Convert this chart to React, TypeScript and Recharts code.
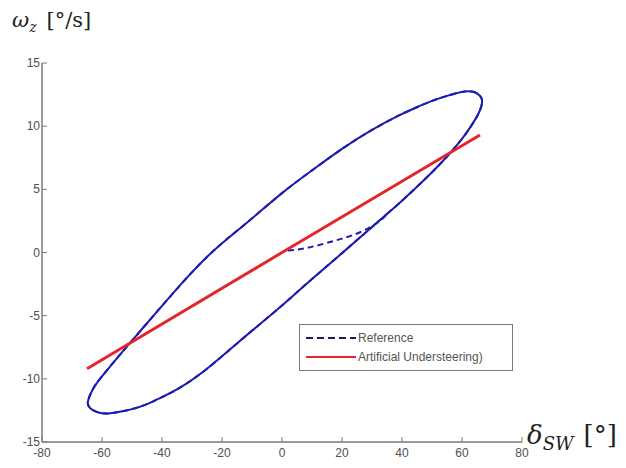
import { Line, LineChart, XAxis, YAxis } from 'recharts';

// steering wheel angle δ_SW [°] vs yaw rate ω_z [°/s]
const xTicks = [-80, -60, -40, -20, 0, 20, 40, 60, 80];
const yTicks = [-15, -10, -5, 0, 5, 10, 15];

// start-up of the reference manoeuvre (from the origin onto the loop)
const transientDelta = [2, 8, 14, 20, 26, 32, 35];
const transientOmega = [0.15, 0.35, 0.7, 1.1, 1.6, 2.4, 3.05];

// steady sine-steer loop, traced counter-clockwise
const loopDelta = [
  35, 40, 45, 50, 55, 60, 63, 65.5, 66.7, 66, 64, 61, 58, 55, 50, 45, 39, 30, 20, 10, 0, -12, -23,
  -34, -45, -53, -60, -63, -64.7, -64, -62, -59, -55, -50, -45, -40, -34, -25, -15, -7, 0, 5, 10, 20,
  28, 35,
];
const loopOmega = [
  3.05, 4.1, 5.2, 6.35, 7.6, 9.0, 10.0, 11.0, 11.9, 12.4, 12.7, 12.75, 12.6, 12.4, 12.0, 11.5, 10.85,
  9.7, 8.2, 6.5, 4.7, 2.3, 0.1, -2.6, -5.6, -7.8, -9.8, -10.8, -11.8, -12.3, -12.6, -12.75, -12.65,
  -12.4, -12.0, -11.45, -10.7, -9.2, -7.2, -5.6, -4.2, -3.15, -2.1, -0.05, 1.6, 3.05,
];

const understeerDelta = [-65, 0, 66];
const understeerOmega = [-9.2, 0, 9.3];

const zip = (xs: number[], ys: number[]) => xs.map((x, i) => ({ x, y: ys[i] }));

const loopData = zip(loopDelta, loopOmega);
const referenceData = [...zip(transientDelta, transientOmega), ...loopData];
const understeerData = zip(understeerDelta, understeerOmega);

const BLUE = '#1c1cae';
const RED = '#e3262b';
const AXIS = '#7a7a7a';
const tickFont = '"Liberation Sans", Arial, sans-serif';

const YTick = (props: any) => {
  const { x, y, payload } = props;
  return (
    <g>
      <line x1={x} x2={x + 5} y1={y} y2={y} stroke={AXIS} strokeWidth={1} />
      <text x={x - 2} y={y} dy={4} textAnchor="end" fontSize={12} fill="#505050" fontFamily={tickFont}>
        {payload.value}
      </text>
    </g>
  );
};

const XTick = (props: any) => {
  const { x, y, payload } = props;
  return (
    <g>
      <line x1={x} x2={x} y1={y} y2={y - 5} stroke={AXIS} strokeWidth={1} />
      <text x={x} y={y + 15} textAnchor="middle" fontSize={12} fill="#505050" fontFamily={tickFont}>
        {payload.value}
      </text>
    </g>
  );
};

const mathFont = '"DejaVu Serif", "Liberation Serif", serif';

export default function App() {
  return (
    <div style={{ position: 'absolute', left: 0, top: 0, width: 626, height: 468, background: '#fff' }}>
      <LineChart width={626} height={468} margin={{ top: 63, right: 104, left: 0, bottom: 0 }}>
        <XAxis
          dataKey="x"
          type="number"
          domain={[-80, 80]}
          ticks={xTicks}
          allowDataOverflow
          height={26}
          tickSize={0}
          tickMargin={0}
          tickLine={false}
          axisLine={{ stroke: AXIS, strokeWidth: 1.5 }}
          tick={<XTick />}
          interval={0}
        />
        <YAxis
          dataKey="y"
          type="number"
          domain={[-15, 15]}
          ticks={yTicks}
          allowDataOverflow
          width={42}
          tickSize={0}
          tickMargin={0}
          tickLine={false}
          axisLine={{ stroke: AXIS, strokeWidth: 1.5 }}
          tick={<YTick />}
          interval={0}
        />
        <Line
          data={loopData}
          dataKey="y"
          type="natural"
          stroke={BLUE}
          strokeWidth={2}
          dot={false}
          legendType="none"
          isAnimationActive={false}
        />
        <Line
          data={referenceData}
          dataKey="y"
          name="Reference"
          type="natural"
          stroke={BLUE}
          strokeWidth={2}
          strokeDasharray="6 4"
          dot={false}
          isAnimationActive={false}
        />
        <Line
          data={understeerData}
          dataKey="y"
          name="Artificial Understeering)"
          type="linear"
          stroke={RED}
          strokeWidth={3}
          dot={false}
          isAnimationActive={false}
        />
      </LineChart>

      <div style={{ position: 'absolute', left: 12, top: 8, fontFamily: mathFont, fontSize: 21, color: '#222', whiteSpace: 'nowrap' }}>
        <i>ω</i>
        <sub style={{ fontSize: 14, fontStyle: 'italic' }}>z</sub>
        <span style={{ marginLeft: 10 }}>[°/s]</span>
      </div>
      <div style={{ position: 'absolute', left: 527, top: 420, fontFamily: mathFont, fontSize: 26, color: '#222', whiteSpace: 'nowrap' }}>
        <i>δ</i>
        <sub style={{ fontSize: 18, fontStyle: 'italic' }}>SW</sub>
        <span style={{ marginLeft: 10 }}>[°]</span>
      </div>

      <div
        style={{
          position: 'absolute',
          left: 299,
          top: 324,
          width: 214,
          height: 47,
          border: `1px solid ${AXIS}`,
          background: '#fff',
          fontFamily: tickFont,
          fontSize: 12,
          color: '#555',
          boxSizing: 'border-box',
        }}
      >
        {[
          { label: 'Reference', color: '#1a1a60', dash: '7 4' },
          { label: 'Artificial Understeering)', color: RED, dash: undefined },
        ].map((item, i) => (
          <div key={item.label} style={{ position: 'absolute', left: 6, top: 5 + i * 19, height: 16, display: 'flex', alignItems: 'center' }}>
            <svg width={50} height={6}>
              <line x1={0} x2={50} y1={3} y2={3} stroke={item.color} strokeWidth={2} strokeDasharray={item.dash} />
            </svg>
            <span style={{ marginLeft: 2 }}>{item.label}</span>
          </div>
        ))}
      </div>
    </div>
  );
}
